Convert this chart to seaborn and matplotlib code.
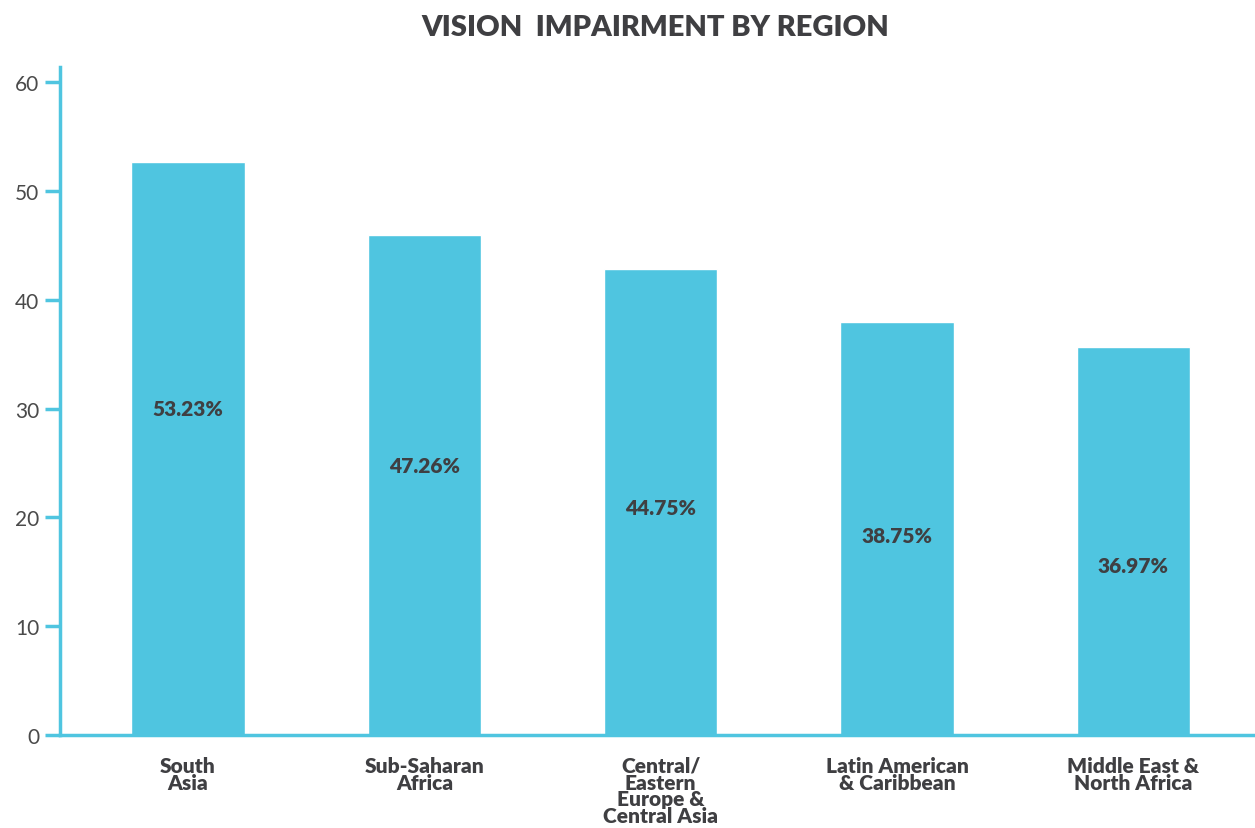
import pandas as pd
import matplotlib.pyplot as plt
import seaborn as sns

regions = ["South\nAsia", "Sub-Saharan\nAfrica", "Central/\nEastern\nEurope &\nCentral Asia",
           "Latin American\n& Caribbean", "Middle East &\nNorth Africa"]
bar_heights = [52.7, 46.0, 42.8, 38.0, 35.7]
pct_labels = ["53.23%", "47.26%", "44.75%", "38.75%", "36.97%"]
label_at = [30.0, 24.8, 20.9, 18.3, 15.6]

df = pd.DataFrame({"region": regions, "value": bar_heights})

blue = "#4FC5E0"
dark = "#3f3f42"

sns.set_style("white")
plt.rcParams["font.family"] = ["Lato", "DejaVu Sans"]

fig = plt.figure(figsize=(12.55, 8.29), dpi=100)
ax = fig.add_axes([0.0478, 0.1122, 0.9522, 0.8058])

sns.barplot(data=df, x="region", y="value", color=blue, width=0.48,
            saturation=1, ax=ax)

for i, (txt, y) in enumerate(zip(pct_labels, label_at)):
    ax.text(i, y, txt, ha="center", va="center", fontsize=15,
            fontweight="heavy", color=dark)

ax.set_xlim(-0.542, 4.515)
ax.set_ylim(0, 61.4)
ax.set_yticks(range(0, 61, 10))
ax.set_xlabel("")
ax.set_ylabel("")

for side in ["top", "right"]:
    ax.spines[side].set_visible(False)
for side in ["left", "bottom"]:
    ax.spines[side].set_color(blue)
    ax.spines[side].set_linewidth(2.5)

ax.tick_params(axis="y", length=11, width=2.5, color=blue, labelsize=15,
               labelcolor="#4a4a4a", pad=4, left=True)
ax.tick_params(axis="x", length=0, pad=15)
for lbl in ax.get_xticklabels():
    lbl.set_fontsize(15)
    lbl.set_fontweight("heavy")
    lbl.set_color(dark)
    lbl.set_linespacing(0.86)
    lbl.set_va("top")

fig.text(0.522, 0.966, "VISION  IMPAIRMENT BY REGION", ha="center", va="center",
         fontsize=21, fontweight="heavy", color=dark)

plt.savefig("out.png", dpi=100)
